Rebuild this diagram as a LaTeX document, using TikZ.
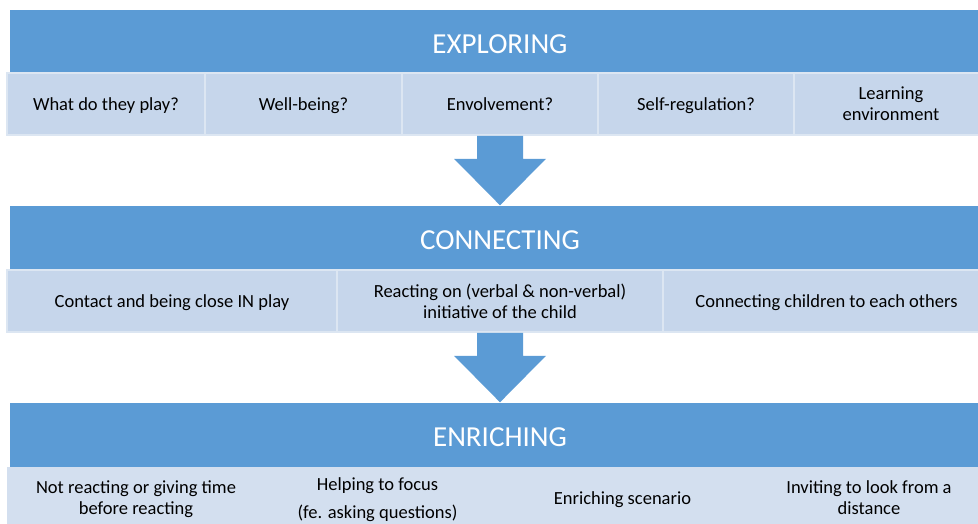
\documentclass[tikz,border=0pt]{standalone}
\usepackage{fontspec}
\setmainfont{Carlito}
\usetikzlibrary{calc}
\definecolor{barblue}{HTML}{5B9BD5}
\definecolor{cellblue}{HTML}{C6D6EB}
\definecolor{cellpale}{HTML}{D3DFEF}
\definecolor{celledge}{HTML}{DCE6F2}
\def\downblock(#1)(#2){\fill[barblue] ($(#1)+(-23,0)$) -- ($(#1)+(23,0)$) -- ($(#1)+(23,23)$) -- ($(#1)+(46,23)$) -- (#2) -- ($(#1)+(-46,23)$) -- ($(#1)+(-23,23)$) -- cycle;}
\tikzset{
  bar/.style={fill=barblue, text=white, minimum width=980pt, minimum height=64pt, inner sep=0pt, text height=23pt, text depth=0pt, font=\fontsize{29}{32}\selectfont},
  cell/.style={fill=cellblue, draw=celledge, line width=1.5pt, minimum height=62pt, inner sep=0pt, text depth=0pt, align=center, font=\fontsize{18.5}{21}\selectfont},
  palecell/.style={cell, fill=cellpale, draw=none},
}

\begin{document}
\begin{tikzpicture}[x=1pt, y=-1pt]
	%%%%% START %%%%%
	\useasboundingbox (0,0) rectangle (978,523);
	
	% exploring
	\node[bar] (exploring) at (500,41.5) {EXPLORING};
	\node[cell, minimum width=198pt] (play) at (106,104) {What do they play?};
	\node[cell, minimum width=197pt] (wellbeing) at (303.5,104) {Well-being?};
	\node[cell, minimum width=196pt] (envolvement) at (500,104) {Envolvement?};
	\node[cell, minimum width=196pt] (selfreg) at (696,104) {Self-regulation?};
	\node[cell, minimum width=194pt] (environment) at (891,104) {Learning\\environment};
	
	% connecting
	\node[bar] (connecting) at (500,237.5) {CONNECTING};
	\node[cell, minimum width=330pt] (contact) at (172,301) {Contact and being close IN play};
	\node[cell, minimum width=326pt] (reacting) at (500,301) {Reacting on (verbal \& non-verbal)\\initiative of the child};
	\node[cell, minimum width=327pt] (children) at (826.5,301) {Connecting children to each others};
	
	% enriching
	\node[bar] (enriching) at (500,434.5) {ENRICHING};
	\node[palecell, minimum width=258pt] (waiting) at (136,498) {Not reacting or giving time\\before reacting};
	\node[palecell, minimum width=225pt] (focus) at (377.5,498) {Helping to focus\\[7pt](fe. asking questions)};
	\node[palecell, minimum width=265pt] (scenario) at (622.5,498) {Enriching scenario};
	\node[palecell, minimum width=228pt] (distance) at (869,498) {Inviting to look from a\\distance};
	
	% arrows between the steps
	\downblock(envolvement.south)(connecting.north);
	\downblock(reacting.south)(enriching.north);
	
	%%%%% END %%%%%
\end{tikzpicture}
\end{document}
